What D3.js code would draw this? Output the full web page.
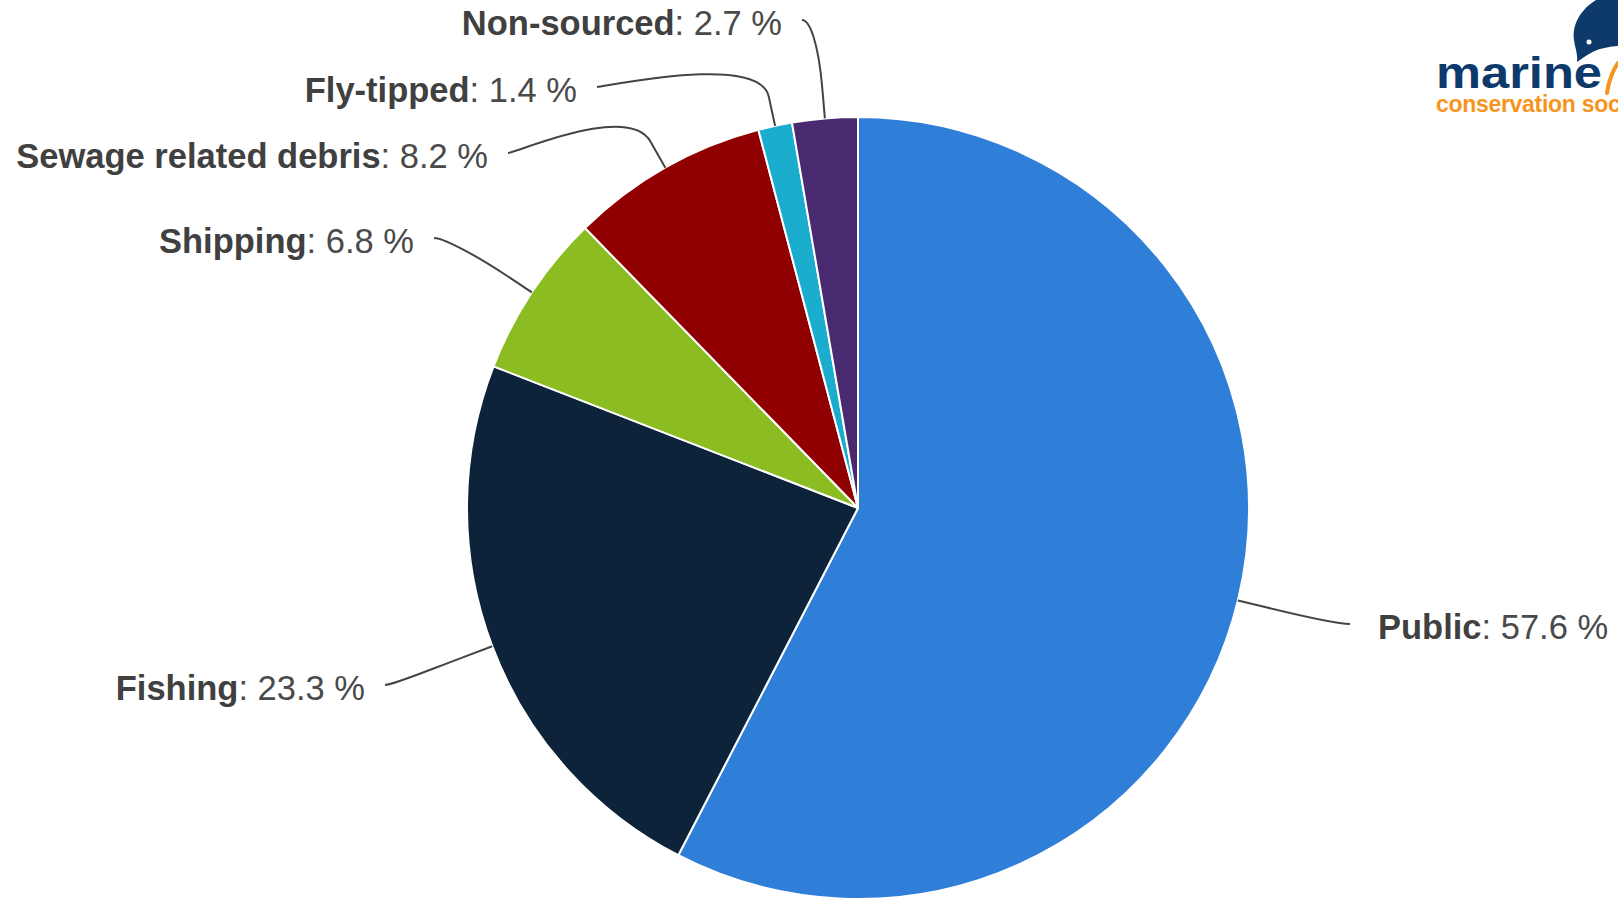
<!DOCTYPE html>
<html>
<head>
<meta charset="utf-8">
<script src="https://cdn.jsdelivr.net/npm/d3@7"></script>
<style>
  html, body { margin: 0; padding: 0; background: #fff; }
  svg { display: block; }
</style>
</head>
<body>
<svg id="chart" width="1618" height="902"></svg>
<script>
// ---- data ----
const categories = ["Public", "Fishing", "Shipping", "Sewage related debris", "Fly-tipped", "Non-sourced"];
const values = [57.6, 23.3, 6.8, 8.2, 1.4, 2.7];
const colors = ["#2f7ed8", "#0d233a", "#8bbc21", "#910000", "#1aadce", "#492970"];

// ---- layout (label anchor offsets from the pie centre, px) ----
const labelAnchors = [[492, 116], [-473, 177], [-424, -270], [-350, -355], [-261, -421], [-56, -488]];

const W = 1618, H = 902;
const cx = 858, cy = 508, R = 391;
const svg = d3.select("#chart");

const data = categories.map((c, i) => ({ name: c, value: values[i], color: colors[i], anchor: labelAnchors[i] }));

const pie = d3.pie().sort(null).value(d => d.value).startAngle(0).endAngle(2 * Math.PI);
const arcs = pie(data);
const arc = d3.arc().innerRadius(0).outerRadius(R);

const g = svg.append("g").attr("transform", `translate(${cx},${cy})`);

g.selectAll("path.slice").data(arcs).join("path")
  .attr("class", "slice")
  .attr("d", arc)
  .attr("fill", d => d.data.color)
  .attr("stroke", "#ffffff")
  .attr("stroke-width", 2)
  .attr("stroke-linejoin", "round");

// connectors
function polar(a, r) { return [Math.sin(a) * r, -Math.cos(a) * r]; }
g.selectAll("path.conn").data(arcs).join("path")
  .attr("class", "conn")
  .attr("fill", "none")
  .attr("stroke", "#444")
  .attr("stroke-width", 2)
  .attr("d", d => {
    const a = (d.startAngle + d.endAngle) / 2;
    const E = polar(a, R);
    const P = polar(a, R + 30);
    const C2 = [P[0] + 1.5 * (P[0] - E[0]), P[1] + 1.5 * (P[1] - E[1])];
    const [ax, ay] = d.data.anchor;
    const dir = ax > 0 ? -1 : 1;
    const C1 = [ax + dir * 8, ay];
    return `M${ax},${ay}C${C1[0]},${C1[1]} ${C2[0]},${C2[1]} ${P[0]},${P[1]}L${E[0]},${E[1]}`;
  });

// labels
const fmt = d3.format(".1f");
const labels = g.selectAll("text.lbl").data(arcs).join("text")
  .attr("class", "lbl")
  .attr("x", d => d.data.anchor[0] > 0 ? d.data.anchor[0] + 28 : d.data.anchor[0] - 20)
  .attr("y", d => d.data.anchor[1] + 15)
  .attr("text-anchor", d => d.data.anchor[0] > 0 ? "start" : "end")
  .attr("font-family", "'Liberation Sans', Arial, Helvetica, sans-serif")
  .attr("font-size", 34.5)
  .attr("fill", "#4a4a4a");
labels.append("tspan").attr("font-weight", "bold").attr("fill", "#404040").text(d => d.data.name);
labels.append("tspan").text(d => ": " + fmt(d.data.value) + " %");

// logo (marine conservation society)
const logo = svg.append("g");
logo.append("path")
  .attr("d", "M1596,0 C1580,10 1572,25 1574,40 C1575,48 1578,54 1577,62 C1583,58 1590,52 1600,49 C1608,47 1614,46 1618,46 L1618,0 Z")
  .attr("fill", "#0d3a6b");
logo.append("circle").attr("cx", 1589).attr("cy", 42).attr("r", 2.5).attr("fill", "#fff");
logo.append("path")
  .attr("d", "M1607,93 C1609,80 1613,70 1618,63")
  .attr("fill", "none").attr("stroke", "#f7941d").attr("stroke-width", 4).attr("stroke-linecap", "round");
logo.append("text")
  .attr("x", 1436).attr("y", 88)
  .attr("font-family", "'Liberation Sans', Arial, sans-serif")
  .attr("font-weight", "bold").attr("font-size", 44)
  .attr("textLength", 166).attr("lengthAdjust", "spacingAndGlyphs")
  .attr("fill", "#0d3a6b")
  .text("marine");
logo.append("text")
  .attr("x", 1436).attr("y", 112)
  .attr("font-family", "'Liberation Sans', Arial, sans-serif")
  .attr("font-weight", "bold").attr("font-size", 23)
  .attr("letter-spacing", -0.3)
  .attr("fill", "#f7941d")
  .text("conservation society");
</script>
</body>
</html>
